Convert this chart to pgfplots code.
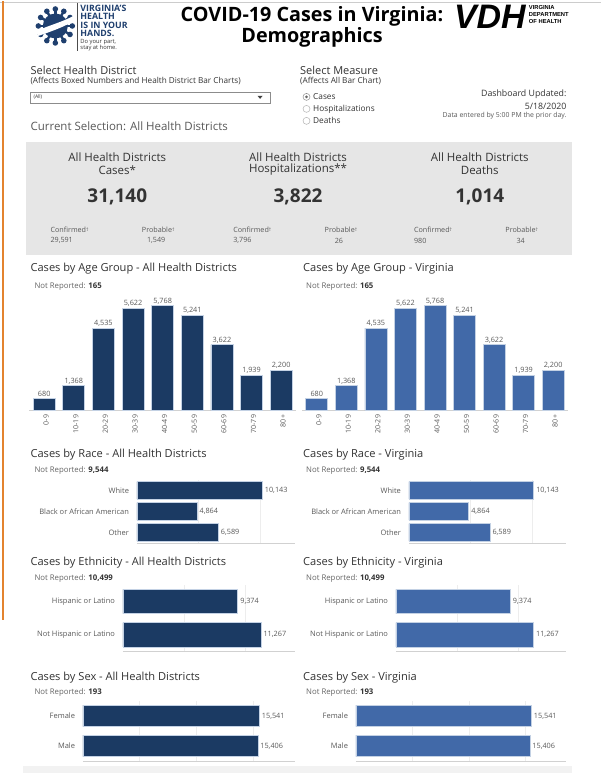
\documentclass[border=0pt]{standalone}
\usepackage{pgfplots}
\usepackage{pgfplotstable}
\pgfplotsset{compat=1.18}
\usepackage{fontspec}
\setmainfont{Open Sans}
\newfontfamily\vdhfont{Liberation Sans}
\newcommand\fs[1]{\fontsize{#1pt}{#1pt}\selectfont}
\definecolor{navy}{HTML}{1B3A63}
\definecolor{vblue}{HTML}{4169A8}
\definecolor{barline}{HTML}{C3D1E4}
\definecolor{txt}{HTML}{333333}
\definecolor{lbl}{HTML}{595959}
\definecolor{nrgray}{HTML}{666666}
\definecolor{boxgray}{HTML}{E6E6E6}
\definecolor{orangeline}{HTML}{E3832F}
\definecolor{logoblue}{HTML}{1F3F6E}

\pgfplotstableread{
i v
0 680
1 1368
2 4535
3 5622
4 5768
5 5241
6 3622
7 1939
8 2200
}\agedata
\pgfplotstableread{
i v
2 10143
1 4864
0 6589
}\racedata
\pgfplotstableread{
i v
1 9374
0 11267
}\ethdata
\pgfplotstableread{
i v
1 15541
0 15406
}\sexdata

\pgfplotsset{
  dash/.style={scale only axis, anchor=south west, clip=false,
    axis lines*=left,
    x axis line style={draw=black!18, line width=0.6pt},
    y axis line style={draw=none},
    tick style={draw=none},
    ticklabel style={font=\fs{7}, text=lbl},
    /pgf/number format/assume math mode=true,
    /pgf/number format/1000 sep={,},
    nodes near coords,
    nodes near coords style={font=\fs{7.3}, text=lbl},
  },
  agebar/.style={dash, ybar, bar width=22pt, xmin=-0.5, xmax=8.5, ymin=0, ymax=6482,
    height=118pt, ytick=\empty, xtick=data,
    xticklabels={0-9,10-19,20-29,30-39,40-49,50-59,60-69,70-79,80+},
    xticklabel style={rotate=90, anchor=east, inner sep=0pt, yshift=-2pt, font=\fs{7.1}},
    every node near coord/.append style={inner sep=1.2pt},
  },
  hbar/.style={dash, xbar, xmin=0, ymin=-0.5, point meta=x,
    xtick={5000,10000,15000}, scaled x ticks=false,
    xticklabels={,,}, xmajorgrids, major grid style={draw=black!7, line width=0.6pt},
    yticklabel style={anchor=east, inner sep=0pt, xshift=-3.5pt, font=\fs{7.5}},
    every node near coord/.append style={inner sep=2.2pt},
  },
}

\begin{document}
\begin{tikzpicture}[x=1pt,y=-1pt]
\path[fill=white] (0,0) rectangle (601,773);
% frame lines
\draw[black!20, line width=0.8pt] (0,1) -- (601,1);
\draw[orangeline, line width=2pt] (3,0) -- (3,620);
\fill[black!5] (23,766) rectangle (572,773);

% logo
\begin{scope}[logoblue]
\foreach \a in {0,30,...,330} {
  \draw[line width=2.4pt] (55,25) -- ++(\a:17);
  \fill (55,25) ++(\a:17) circle (2.8);
}
\fill (55,25) circle (12.5);
\end{scope}
\fill[white] (36,30) .. controls (50,24) and (62,21) .. (73,15) -- (75,19) .. controls (64,26) and (52,30) .. (38,35) -- cycle;
\draw[black!70, line width=0.8pt] (77,2) -- (77,50);
\begin{scope}[logoblue, font=\bfseries\fs{8.8}]
\node[anchor=west, inner sep=0pt] at (80,7) {VIRGINIA'S};
\node[anchor=west, inner sep=0pt] at (80,15.5) {HEALTH};
\node[anchor=west, inner sep=0pt] at (80,24) {IS IN YOUR};
\node[anchor=west, inner sep=0pt] at (80,32.5) {HANDS.};
\end{scope}
\node[anchor=west, inner sep=0pt, font=\fs{5.8}, text=txt] at (80,41.5) {Do your part,};
\node[anchor=west, inner sep=0pt, font=\fs{5.8}, text=txt] at (80,47.5) {stay at home.};

% title
\node[font=\bfseries\fs{19.8}, text=black, inner sep=0pt] at (312,15) {COVID-19 Cases in Virginia:};
\node[font=\bfseries\fs{19.8}, text=black, inner sep=0pt] at (312,36) {Demographics};

% VDH logo
\node[anchor=west, inner sep=0pt, font=\vdhfont\bfseries\itshape\fs{34}] at (454,16) {VDH};
\begin{scope}[font=\vdhfont\bfseries\fs{5.8}]
\node[anchor=west, inner sep=0pt] at (529,7) {VIRGINIA};
\node[anchor=west, inner sep=0pt] at (529,14) {DEPARTMENT};
\node[anchor=west, inner sep=0pt] at (529,21) {OF HEALTH};
\end{scope}

% selectors
\node[anchor=west, inner sep=0pt, font=\fs{11}, text=txt] at (30,69) {Select Health District};
\node[anchor=west, inner sep=0pt, font=\fs{8.2}, text=txt] at (30,80) {(Affects Boxed Numbers and Health District Bar Charts)};
\draw[black!45, line width=0.6pt, fill=white] (30,91) rectangle (270,102);
\node[anchor=west, inner sep=0pt, font=\fs{5}, text=txt] at (33,96.5) {(All)};
\fill[black!75] (257.5,95) -- (262.5,95) -- (260,98) -- cycle;

\node[anchor=west, inner sep=0pt, font=\fs{11}, text=txt] at (300,69) {Select Measure};
\node[anchor=west, inner sep=0pt, font=\fs{8.2}, text=txt] at (300,80) {(Affects All Bar Chart)};
\draw[black!45, line width=0.5pt] (306.5,96) circle (3.5);
\fill[black!60] (306.5,96) circle (1.5);
\draw[black!30, line width=0.5pt] (306.5,108) circle (3.5);
\draw[black!30, line width=0.5pt] (306.5,120) circle (3.5);
\node[anchor=west, inner sep=0pt, font=\fs{8.3}, text=txt] at (313,96) {Cases};
\node[anchor=west, inner sep=0pt, font=\fs{8.3}, text=txt] at (313,108) {Hospitalizations};
\node[anchor=west, inner sep=0pt, font=\fs{8.3}, text=txt] at (313,120) {Deaths};

\node[anchor=east, inner sep=0pt, font=\fs{8.8}, text=txt] at (567,93) {Dashboard Updated:};
\node[anchor=east, inner sep=0pt, font=\fs{8.8}, text=txt] at (567,105) {5/18/2020};
\node[anchor=east, inner sep=0pt, font=\fs{6.9}, text=lbl] at (567,115) {Data entered by 5:00 PM the prior day.};

\node[anchor=west, inner sep=0pt, font=\fs{11.5}, text=lbl] at (30,125) {Current Selection: All Health Districts};

% summary box
\fill[boxgray] (26,141) rectangle (572,254);
\begin{scope}[text=txt, inner sep=0pt]
\node[font=\fs{11.5}] at (117,156) {All Health Districts};
\node[font=\fs{11.5}] at (117,169) {Cases*};
\node[font=\bfseries\fs{19}] at (117,196) {31,140};
\node[font=\fs{11.5}] at (298,156) {All Health Districts};
\node[font=\fs{11.5}] at (298,169) {Hospitalizations**};
\node[font=\bfseries\fs{19}] at (298,196) {3,822};
\node[font=\fs{11.5}] at (480,156) {All Health Districts};
\node[font=\fs{11.5}] at (480,169) {Deaths};
\node[font=\bfseries\fs{19}] at (480,196) {1,014};
\end{scope}
\begin{scope}[text=lbl, inner sep=0pt, font=\fs{7.2}]
\node[anchor=west] at (50,229) {Confirmed\raisebox{0.35ex}{\fs{4.8}†}};
\node[anchor=west] at (50,240) {29,591};
\node at (158,229) {Probable\raisebox{0.35ex}{\fs{4.8}†}};
\node at (156,240) {1,549};
\node[anchor=west] at (233,229) {Confirmed\raisebox{0.35ex}{\fs{4.8}†}};
\node[anchor=west] at (233,240) {3,796};
\node at (341,229) {Probable\raisebox{0.35ex}{\fs{4.8}†}};
\node at (339,240) {26};
\node[anchor=west] at (414,229) {Confirmed\raisebox{0.35ex}{\fs{4.8}†}};
\node[anchor=west] at (414,240) {980};
\node at (522,229) {Probable\raisebox{0.35ex}{\fs{4.8}†}};
\node at (521,240) {34};
\end{scope}

% chart titles
\begin{scope}[text=txt, inner sep=0pt, font=\fs{11.1}]
\node[anchor=west] at (30,268) {Cases by Age Group - All Health Districts};
\node[anchor=west] at (303,268) {Cases by Age Group - Virginia};
\node[anchor=west] at (30,454) {Cases by Race - All Health Districts};
\node[anchor=west] at (303,454) {Cases by Race - Virginia};
\node[anchor=west] at (30,562) {Cases by Ethnicity - All Health Districts};
\node[anchor=west] at (303,562) {Cases by Ethnicity - Virginia};
\node[anchor=west] at (30,677) {Cases by Sex - All Health Districts};
\node[anchor=west] at (303,677) {Cases by Sex - Virginia};
\end{scope}
\begin{scope}[text=nrgray, inner sep=0pt, font=\fs{7.8}]
\node[anchor=west] at (34,286) {Not Reported: \textcolor{txt}{\bfseries 165}};
\node[anchor=west] at (306,286) {Not Reported: \textcolor{txt}{\bfseries 165}};
\node[anchor=west] at (34,470.5) {Not Reported: \textcolor{txt}{\bfseries 9,544}};
\node[anchor=west] at (306,470.5) {Not Reported: \textcolor{txt}{\bfseries 9,544}};
\node[anchor=west] at (34,578) {Not Reported: \textcolor{txt}{\bfseries 10,499}};
\node[anchor=west] at (306,578) {Not Reported: \textcolor{txt}{\bfseries 10,499}};
\node[anchor=west] at (34,692.5) {Not Reported: \textcolor{txt}{\bfseries 193}};
\node[anchor=west] at (306,692.5) {Not Reported: \textcolor{txt}{\bfseries 193}};
\end{scope}

% age charts
\begin{axis}[agebar, at={(29pt,-410pt)}, width=267pt]
\addplot[fill=navy, draw=barline, line width=0.7pt] table[x=i,y=v] {\agedata};
\end{axis}
\begin{axis}[agebar, at={(302pt,-410pt)}, width=266.3pt]
\addplot[fill=vblue, draw=barline, line width=0.7pt] table[x=i,y=v] {\agedata};
\end{axis}

% race charts
\begin{axis}[hbar, at={(136.7pt,-542.5pt)}, width=158.3pt, height=63pt, ymax=2.5, xmax=12787,
  bar width=17.5pt, ytick={0,1,2}, yticklabels={Other,Black or African American,White}]
\addplot[fill=navy, draw=barline, line width=0.7pt] table[x=v,y=i] {\racedata};
\end{axis}
\begin{axis}[hbar, at={(409pt,-542.5pt)}, width=157.7pt, height=63pt, ymax=2.5, xmax=12796,
  bar width=17.5pt, ytick={0,1,2}, yticklabels={Other,Black or African American,White}]
\addplot[fill=vblue, draw=barline, line width=0.7pt] table[x=v,y=i] {\racedata};
\end{axis}

% ethnicity charts
\begin{axis}[hbar, at={(122.7pt,-651.2pt)}, width=172.3pt, height=66.6pt, ymax=1.5, xmax=14042,
  bar width=24.3pt, ytick={0,1}, yticklabels={Not Hispanic or Latino,Hispanic or Latino}]
\addplot[fill=navy, draw=barline, line width=0.7pt] table[x=v,y=i] {\ethdata};
\end{axis}
\begin{axis}[hbar, at={(396pt,-651.2pt)}, width=170.7pt, height=66.6pt, ymax=1.5, xmax=13950,
  bar width=24.3pt, ytick={0,1}, yticklabels={Not Hispanic or Latino,Hispanic or Latino}]
\addplot[fill=vblue, draw=barline, line width=0.7pt] table[x=v,y=i] {\ethdata};
\end{axis}

% sex charts
\begin{axis}[hbar, at={(82.7pt,-760.8pt)}, width=212.3pt, height=60pt, ymax=1.5, xmax=18680,
  bar width=21.7pt, ytick={0,1}, yticklabels={Male,Female}]
\addplot[fill=navy, draw=barline, line width=0.7pt] table[x=v,y=i] {\sexdata};
\end{axis}
\begin{axis}[hbar, at={(356pt,-760.8pt)}, width=210.7pt, height=60pt, ymax=1.5, xmax=18636,
  bar width=21.7pt, ytick={0,1}, yticklabels={Male,Female}]
\addplot[fill=vblue, draw=barline, line width=0.7pt] table[x=v,y=i] {\sexdata};
\end{axis}
\end{tikzpicture}
\end{document}
